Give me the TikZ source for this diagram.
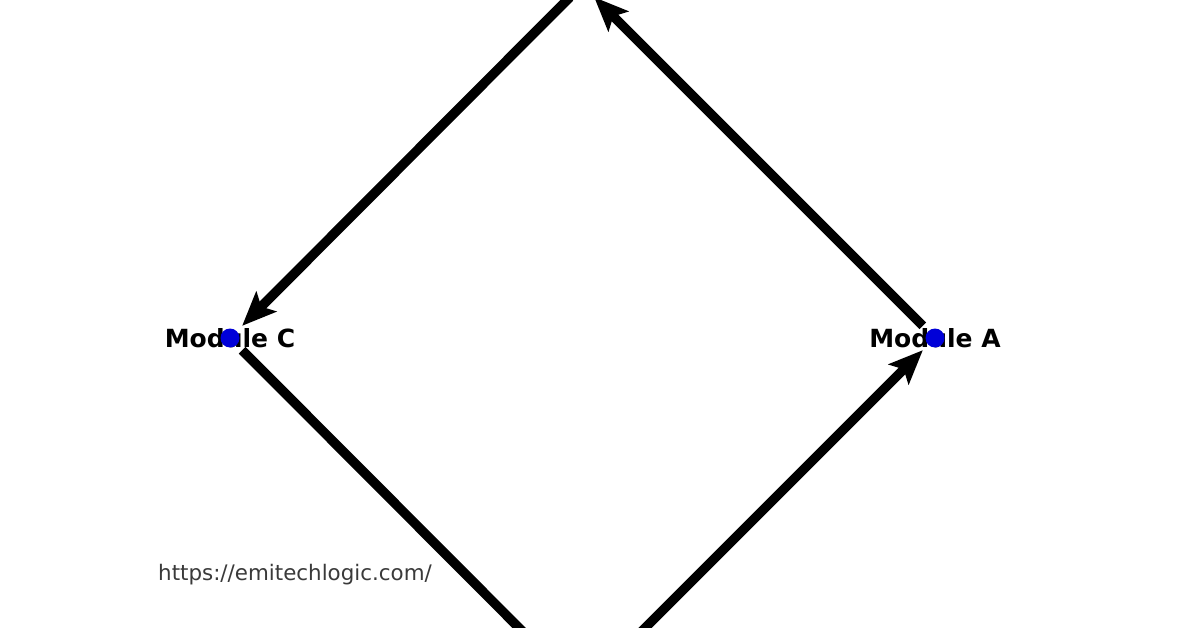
\documentclass[tikz,border=0pt]{standalone}
\usepackage{fontspec}
\setmainfont{DejaVu Sans}
\usetikzlibrary{arrows.meta}
\definecolor{dotblue}{HTML}{0000D8}
\definecolor{urlgray}{HTML}{3A3A3A}
\tikzset{
  modnode/.style={circle, minimum size=34pt, inner sep=0pt},
  dotstyle/.style={fill=dotblue, draw=none},
  modlabel/.style={font=\fontsize{25}{25}\selectfont\bfseries, text=black, inner sep=0pt},
  edgearrow/.style={line width=9.5pt, draw=black, -{Stealth[length=34pt,width=28pt,inset=7pt]}},
  edgeplain/.style={line width=9.5pt, draw=black},
}
\begin{document}
\begin{tikzpicture}[x=1pt,y=-1pt]
\useasboundingbox (0,0) rectangle (1196,628);
\fill[white] (0,0) rectangle (1196,628);
\clip (0,0) rectangle (1196,628);
% nodes
\node[modnode] (top) at (582,-15) {};
\node[modnode] (bot) at (582,691) {};
\node[modnode] (A) at (935,338) {};
\node[modnode] (C) at (230,338) {};
% connectors
\draw[edgearrow] (A) -- (top);
\draw[edgearrow] (top) -- (C);
\draw[edgeplain] (C) -- (bot);
\draw[edgearrow] (bot) -- (A);
% labels and dots
\node[modlabel] (Alab) at (935,338) {Module A};
\node[modlabel] (Clab) at (230,338) {Module C};
\fill[dotstyle] (A.center) circle (9.5pt);
\fill[dotstyle] (C.center) circle (9.5pt);
\node[anchor=west, inner sep=0pt, text=urlgray, font=\fontsize{21.4}{21.4}\selectfont] (url) at (158,575) {https://emitechlogic.com/};
\end{tikzpicture}
\end{document}
